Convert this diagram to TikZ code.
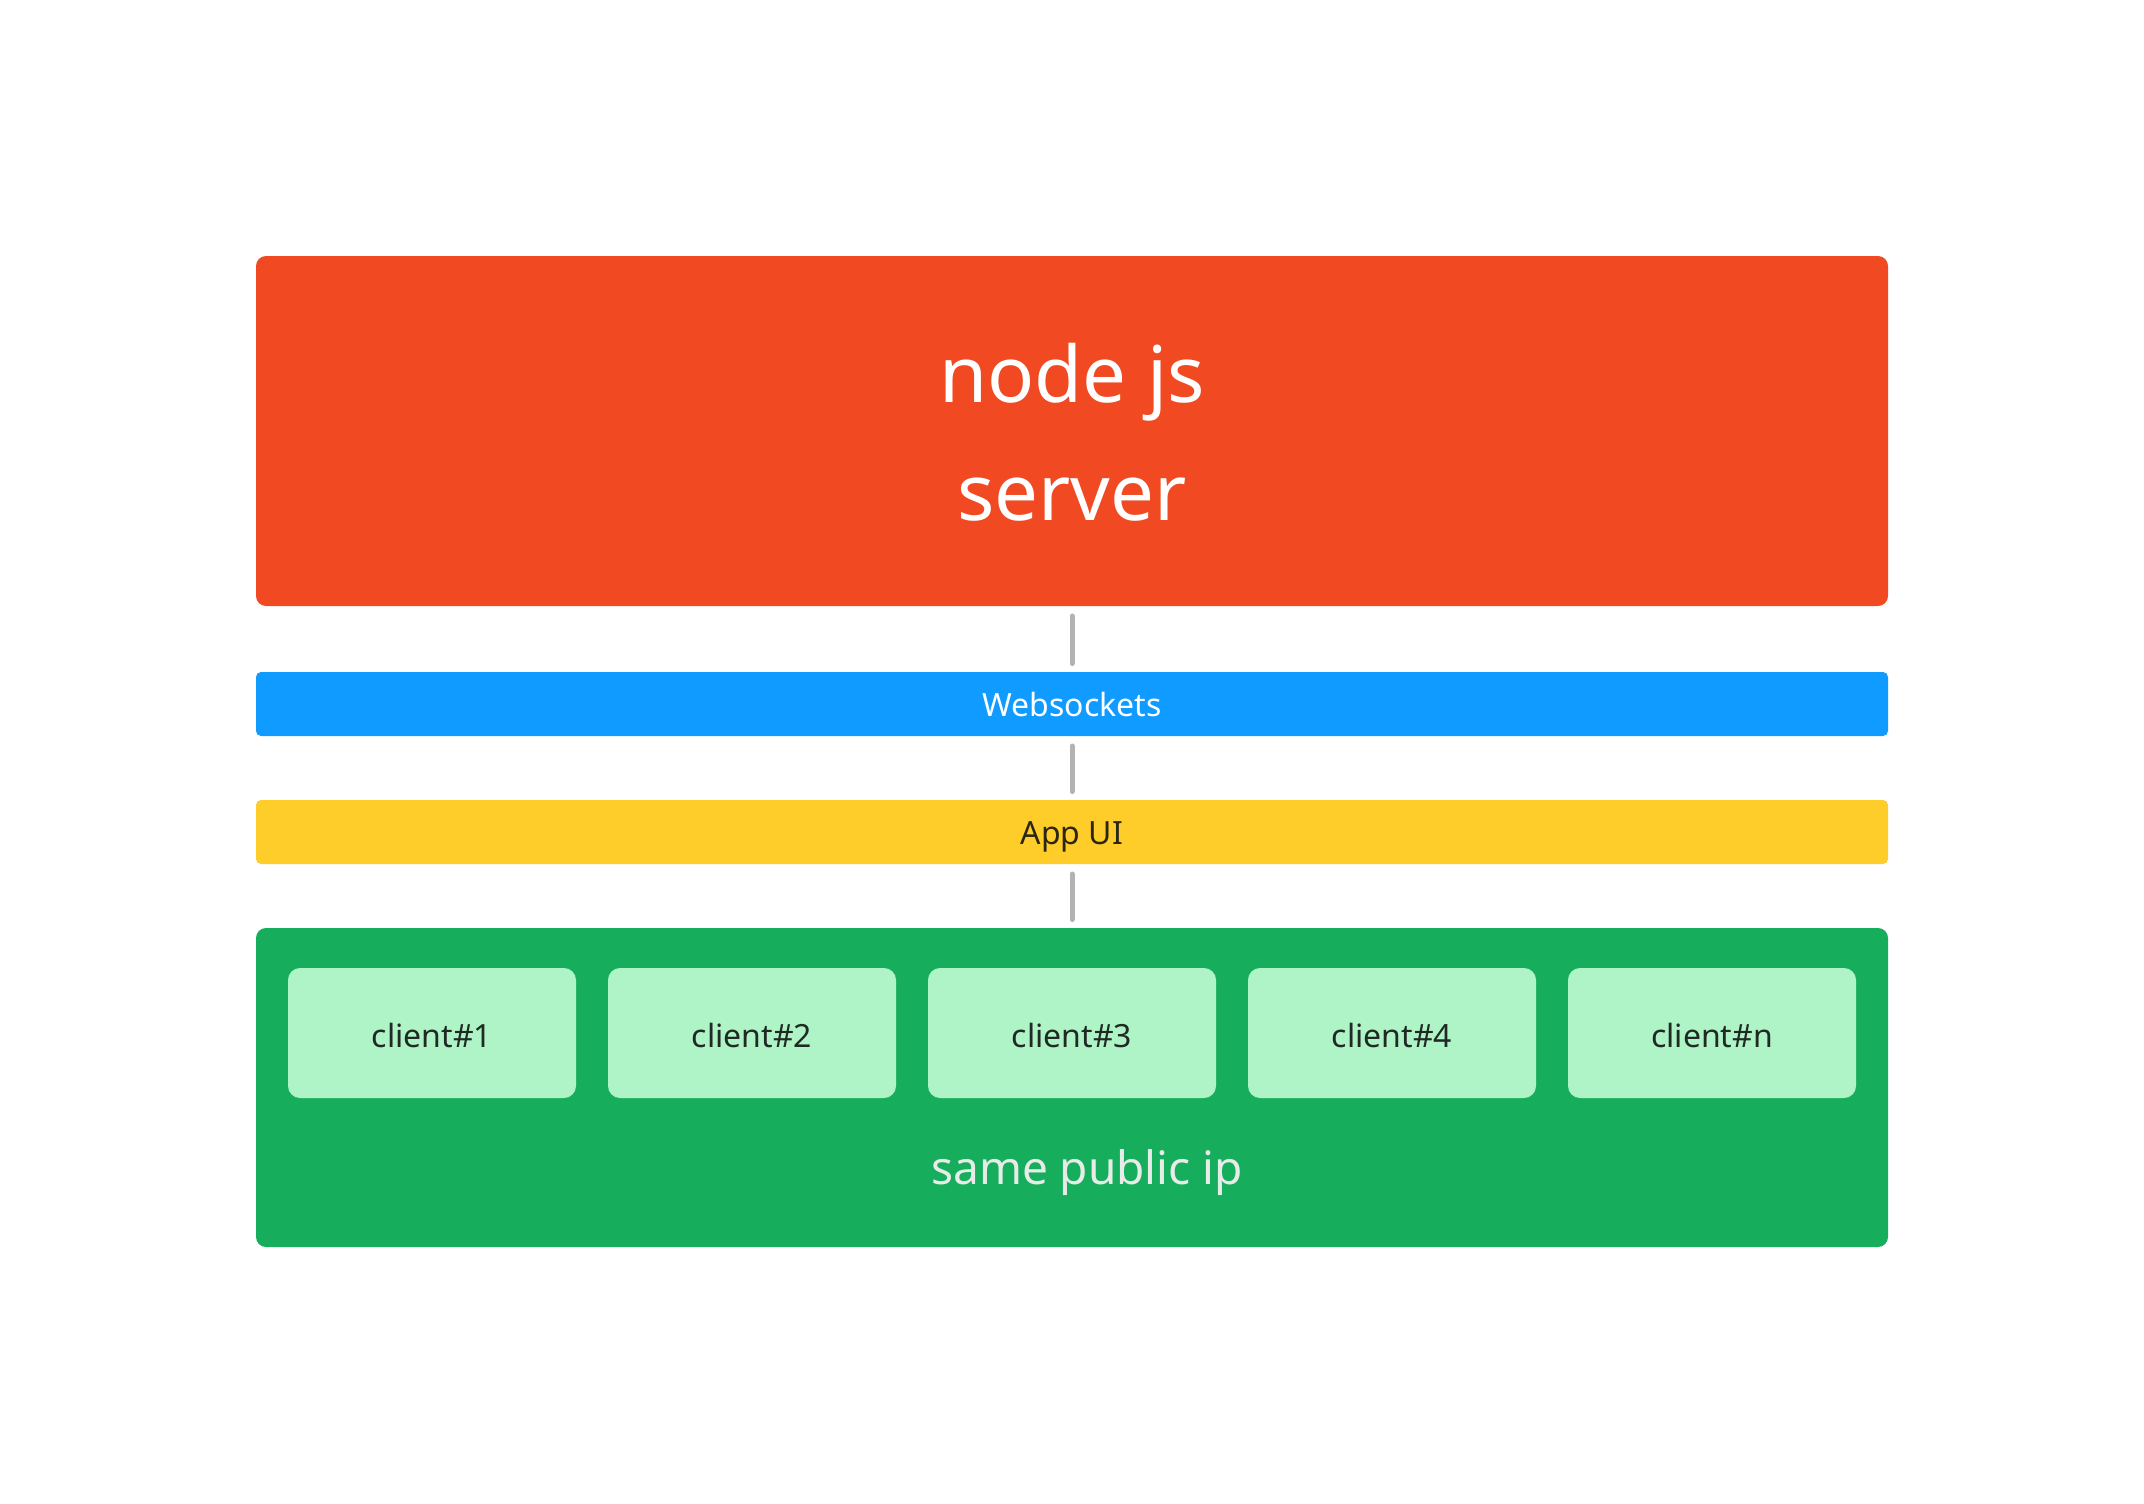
\documentclass[tikz,border=0pt]{standalone}
\usepackage{fontspec}
\setmainfont{Noto Sans}
\definecolor{redc}{HTML}{F14A22}
\definecolor{bluec}{HTML}{0F9BFF}
\definecolor{yellowc}{HTML}{FFCD29}
\definecolor{greenc}{HTML}{16AE5C}
\definecolor{lightg}{HTML}{AFF4C6}
\definecolor{linkgray}{HTML}{B3B3B3}
\definecolor{darktext}{HTML}{2B2612}
\definecolor{clienttext}{HTML}{1F2A23}
\definecolor{iptext}{HTML}{E8ECE9}
\begin{document}
\begin{tikzpicture}[x=0.5pt,y=-0.5pt,
  box/.style={rectangle, inner sep=0pt, outer sep=0pt, draw=none},
  layer/.style={box, minimum width=816pt, minimum height=32pt, rounded corners=2.5pt,
    font=\fontsize{16}{19}\selectfont, text height=12pt, text depth=0pt},
  client/.style={box, fill=lightg, minimum width=144pt, minimum height=65pt, rounded corners=6pt,
    text=clienttext, font=\fontsize{16}{19}\selectfont, text height=14pt, text depth=0pt},
  bigtext/.style={inner sep=0pt, anchor=base, text=white, font=\fontsize{39}{46}\selectfont},
  link/.style={draw=linkgray, line width=2.5pt, line cap=round, shorten <=5pt, shorten >=4.25pt}]
\fill[white] (0,0) rectangle (2144,1504);
\useasboundingbox (0,0) rectangle (2144,1504);

% server
\node[box, fill=redc, minimum width=816pt, minimum height=175pt, rounded corners=5pt] (server) at (1072,431) {};
\node[bigtext] (t1) at (1072,402) {node js};
\node[bigtext] (t2) at (1072,520) {server};

% layers
\node[layer, fill=bluec, text=white] (ws) at (1072,704) {Websockets};
\node[layer, fill=yellowc, text=darktext] (ui) at (1072,832) {App UI};

% clients area
\node[box, fill=greenc, minimum width=816pt, minimum height=159.5pt, rounded corners=5pt] (area) at (1072,1087.5) {};
\node[client] (c1) at (432,1033) {client\#1};
\node[client] (c2) at (752,1033) {client\#2};
\node[client] (c3) at (1072,1033) {client\#3};
\node[client] (c4) at (1392,1033) {client\#4};
\node[client] (cn) at (1712,1033) {client\#n};
\node[inner sep=0pt, anchor=base, text=iptext, font=\fontsize{23}{27}\selectfont] (ip) at (1087,1184) {same public ip};

% connectors
\draw[link] (server.south) -- (ws.north);
\draw[link] (ws.south) -- (ui.north);
\draw[link] (ui.south) -- (area.north);
\end{tikzpicture}
\end{document}
